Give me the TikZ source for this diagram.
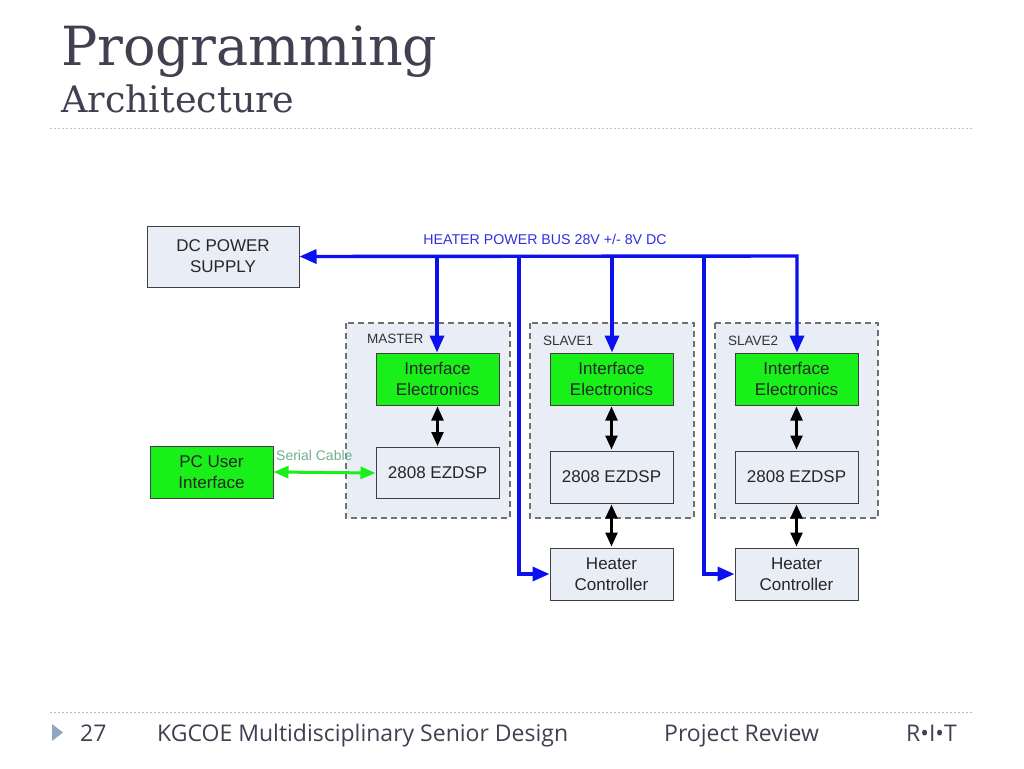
\documentclass[tikz,border=0pt]{standalone}
\usepackage{fontspec}
\setmainfont{Liberation Sans}
\newfontfamily\titlefont{DejaVu Serif}
\newfontfamily\footfont{Open Sans}
\usetikzlibrary{arrows.meta}
\definecolor{boxfill}{HTML}{E8EDF6}
\definecolor{boxline}{HTML}{404040}
\definecolor{grpline}{HTML}{707070}
\definecolor{busblue}{HTML}{0A10F0}
\definecolor{ggreen}{HTML}{19F019}
\definecolor{serialtxt}{HTML}{70B090}
\definecolor{titlecol}{HTML}{404050}
\definecolor{footline}{HTML}{A8BCD0}
\definecolor{hdrline}{HTML}{C0C0C0}
\definecolor{tri}{HTML}{8FA8C0}
\definecolor{buslbl}{HTML}{3030E0}
\tikzset{
  blk/.style={draw=boxline, fill=boxfill, line width=1pt, minimum width=123pt, minimum height=52pt, inner sep=0pt, align=center, font=\fontsize{17}{21}\selectfont, text=black!85},
  gblk/.style={blk, fill=ggreen},
  grp/.style={draw=grpline, fill=boxfill, dashed, dash pattern=on 6pt off 4pt, line width=1.4pt},
  grplabel/.style={anchor=west, font=\fontsize{13.5}{15}\selectfont, text=black!80, inner sep=0pt},
  bus/.style={draw=busblue, line width=3.4pt},
  busarrow/.style={bus, -{Triangle[length=17pt,width=14pt]}},
  busboth/.style={bus, {Triangle[length=17pt,width=14pt]}-{Triangle[length=17pt,width=14pt]}},
  dbl/.style={draw=black, line width=2.4pt, {Triangle[length=14pt,width=12pt]}-{Triangle[length=14pt,width=12pt]}, shorten <=1pt, shorten >=1pt},
  foot/.style={anchor=base west, inner sep=0pt, font=\footfont\fontsize{23}{26}\selectfont, text=titlecol},
}
\begin{document}
\begin{tikzpicture}[x=1pt,y=-1pt]
\useasboundingbox (0,0) rectangle (1024,768);
\fill[white] (0,0) rectangle (1024,768);
% header
\node[anchor=base west, inner sep=0pt, font=\titlefont\fontsize{54}{60}\selectfont, text=titlecol] (title) at (61,65) {Programming};
\node[anchor=base west, inner sep=0pt, font=\titlefont\fontsize{36.5}{40}\selectfont, text=titlecol] (subtitle) at (61,112) {Architecture};
\draw[hdrline, line width=1pt, dash pattern=on 2pt off 2pt] (50,128) -- (972,128);
% footer
\draw[footline, line width=1pt, dash pattern=on 2pt off 2pt] (50,712) -- (972,712);
\fill[tri] (52,724) -- (63,732.5) -- (52,741) -- cycle;
\node[foot] (pnum) at (80,741) {27};
\node[foot] (ftitle) at (157,741) {KGCOE Multidisciplinary Senior Design};
\node[foot] (frev) at (664,741) {Project Review};
\node[foot] (frit) at (906,741) {R•I•T};
% groups
\draw[grp] (346,323) rectangle (510,518);
\draw[grp] (530,323) rectangle (694,518);
\draw[grp] (715,323) rectangle (878,518);
\node[grplabel] (lm) at (367,339) {MASTER};
\node[grplabel] (l1) at (543,341) {SLAVE1};
\node[grplabel] (l2) at (728,341) {SLAVE2};
% blocks
\node[blk, minimum width=152pt, minimum height=61pt] (dc) at (223,256.5) {DC POWER\\SUPPLY};
\node[gblk] (ie0) at (437.5,379) {Interface\\Electronics};
\node[gblk] (ie1) at (611.5,379) {Interface\\Electronics};
\node[gblk] (ie2) at (796.5,379) {Interface\\Electronics};
\node[blk, minimum height=51pt] (dsp0) at (437.5,473) {2808 EZDSP};
\node[blk] (dsp1) at (611.5,477) {2808 EZDSP};
\node[blk] (dsp2) at (796.5,477) {2808 EZDSP};
\node[blk] (hc1) at (611.5,574) {Heater\\Controller};
\node[blk] (hc2) at (796.5,574) {Heater\\Controller};
\node[gblk] (pc) at (211.5,472) {PC User\\Interface};
% bus
\coordinate (busR) at (797,256);
\coordinate (b0) at (437,256);
\coordinate (b1) at (519,256);
\coordinate (b2) at (612,256);
\coordinate (b3) at (704,256);
\draw[busboth] (dc.east) -- (busR) -- (busR |- ie2.north);
\draw[busarrow] (b0) -- (b0 |- ie0.north);
\draw[busarrow] (b2) -- (b2 |- ie1.north);
\draw[busarrow] (b1) |- (hc1.west);
\draw[busarrow] (b3) |- (hc2.west);
\node[font=\fontsize{14.2}{16}\selectfont, text=buslbl, anchor=base, inner sep=0pt] (buslbl) at (545,244) {HEATER POWER BUS 28V +/- 8V DC};
% black double arrows
\draw[dbl] (ie0.south) -- (dsp0.north);
\draw[dbl] (ie1.south) -- (dsp1.north);
\draw[dbl] (ie2.south) -- (dsp2.north);
\draw[dbl] (dsp1.south) -- (hc1.north);
\draw[dbl] (dsp2.south) -- (hc2.north);
% serial
\draw[draw=ggreen, line width=3pt, {Triangle[length=15pt,width=12pt]}-{Triangle[length=15pt,width=12pt]}] (pc.east) -- (dsp0.west);
\node[font=\fontsize{14}{16}\selectfont, text=serialtxt, anchor=base west, inner sep=0pt] (serlbl) at (276,460) {Serial Cable};
\end{tikzpicture}
\end{document}
